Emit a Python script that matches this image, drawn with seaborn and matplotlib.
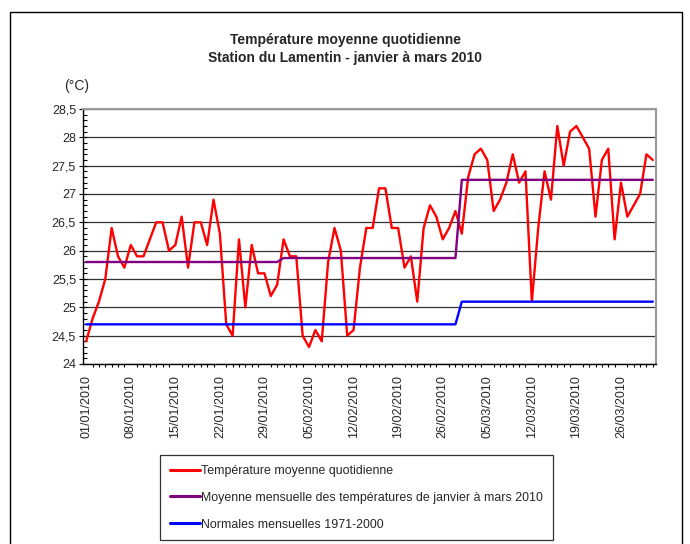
import numpy as np
import pandas as pd
import matplotlib
matplotlib.use("Agg")
import matplotlib.pyplot as plt
import seaborn as sns
from matplotlib.patches import Rectangle
from matplotlib.ticker import MultipleLocator, FuncFormatter

sns.set_theme(style="white")
plt.rcParams['font.family'] = ['Liberation Sans', 'DejaVu Sans']

# daily mean temperature, Lamentin, 01/01/2010 -> 31/03/2010
temp_jan = [24.4, 24.8, 25.1, 25.5, 26.4, 25.9, 25.7, 26.1, 25.9, 25.9,
            26.2, 26.5, 26.5, 26.0, 26.1, 26.6, 25.7, 26.5, 26.5, 26.1,
            26.9, 26.3, 24.7, 24.5, 26.2, 25.0, 26.1, 25.6, 25.6, 25.2,
            25.4]
temp_feb = [26.2, 25.9, 25.9, 24.5, 24.3, 24.6, 24.4, 25.8, 26.4, 26.0,
            24.5, 24.6, 25.7, 26.4, 26.4, 27.1, 27.1, 26.4, 26.4, 25.7,
            25.9, 25.1, 26.4, 26.8, 26.6, 26.2, 26.4, 26.7]
temp_mar = [26.3, 27.3, 27.7, 27.8, 27.6, 26.7, 26.9, 27.2, 27.7, 27.2,
            27.4, 25.1, 26.4, 27.4, 26.9, 28.2, 27.5, 28.1, 28.2, 28.0,
            27.8, 26.6, 27.6, 27.8, 26.2, 27.2, 26.6, 26.8, 27.0, 27.7,
            27.6]

months = ["janvier", "février", "mars"]
monthly_mean = [25.8, 25.87, 27.25]      # moyenne mensuelle 2010
monthly_normal = [24.7, 24.7, 25.1]      # normales 1971-2000

temps = temp_jan + temp_feb + temp_mar
dates = pd.date_range("2010-01-01", periods=len(temps), freq="D")
df = pd.DataFrame({"date": dates, "temp": temps})
df["day"] = np.arange(len(df))
month_idx = df["date"].dt.month - 1
df["moyenne"] = [monthly_mean[m] for m in month_idx]
df["normale"] = [monthly_normal[m] for m in month_idx]

W, H = 690, 544
fig = plt.figure(figsize=(W / 100, H / 100), dpi=100)
ax = fig.add_axes([83 / W, 1 - 364 / H, (656 - 83) / W, (364 - 109) / H])

lbl_t = "Température moyenne quotidienne"
lbl_m = "Moyenne mensuelle des températures de janvier à mars 2010"
lbl_n = "Normales mensuelles 1971-2000"
sns.lineplot(data=df, x="day", y="temp", color="#FF0000", lw=1.7, ax=ax, label=lbl_t)
sns.lineplot(data=df, x="day", y="moyenne", color="#800080", lw=1.7, ax=ax, label=lbl_m)
sns.lineplot(data=df, x="day", y="normale", color="#0000FF", lw=1.7, ax=ax, label=lbl_n)

ax.set_xlim(-0.5, len(df) - 0.5)
ax.set_ylim(24, 28.5)
ax.yaxis.set_major_locator(MultipleLocator(0.5))
ax.yaxis.set_minor_locator(MultipleLocator(0.1))
ax.yaxis.set_major_formatter(FuncFormatter(lambda v, p: f"{v:g}".replace(".", ",")))
ax.grid(axis="y", which="major", color="#333333", lw=0.9)
ax.set_axisbelow(True)

week_pos = df["day"][::7]
ax.set_xticks(week_pos)
ax.set_xticklabels(df["date"][::7].dt.strftime("%d/%m/%Y"), rotation=90, fontsize=9)
ax.set_xticks(df["day"], minor=True)
ax.tick_params(axis="x", which="major", length=5, width=0.8, color="black", pad=3)
ax.tick_params(axis="x", which="minor", length=2.5, width=0.8, color="black", bottom=True)
ax.tick_params(axis="y", which="major", direction="inout", length=6, width=0.8,
               color="black", labelsize=9, pad=2, left=True)
ax.tick_params(axis="y", which="minor", direction="in", length=3, width=0.8,
               color="black", left=True)
ax.set_xlabel("")
ax.set_ylabel("")

for side in ["left", "bottom"]:
    ax.spines[side].set_color("black")
    ax.spines[side].set_linewidth(1.0)
for side in ["top", "right"]:
    ax.spines[side].set_color("#999999")
    ax.spines[side].set_linewidth(1.5)

leg = ax.legend(loc="upper left", bbox_to_anchor=(160 / W, 1 - 455 / H),
                bbox_transform=fig.transFigure, frameon=True, fancybox=False,
                edgecolor="black", fontsize=8.9, handlelength=2.4, handletextpad=0.15,
                labelspacing=1.2, borderpad=0.8, borderaxespad=0)
leg.get_frame().set_linewidth(0.9)
for line in leg.get_lines():
    line.set_linewidth(2.2)

fig.text(345 / W, 1 - 40 / H, "Température moyenne quotidienne", ha="center",
         va="center", fontsize=10, fontweight="bold")
fig.text(345 / W, 1 - 58 / H, "Station du Lamentin - janvier à mars 2010", ha="center",
         va="center", fontsize=10, fontweight="bold")
fig.text(77 / W, 1 - 86 / H, "(°C)", ha="center", va="center", fontsize=10)

fig.patches.append(Rectangle((10 / W, -0.05), (682 - 10) / W, 1.05 - 12 / H,
                             transform=fig.transFigure, fill=False,
                             edgecolor="black", lw=1.0))

fig.savefig("out.png", dpi=100)
